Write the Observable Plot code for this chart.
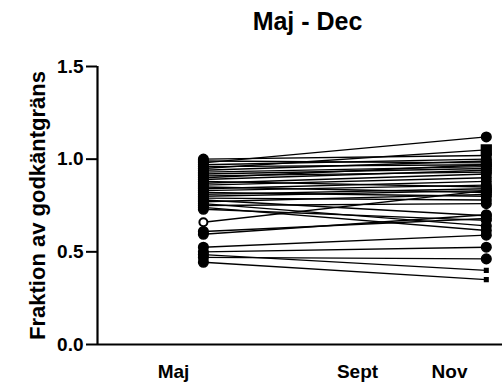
<!DOCTYPE html>
<html>
<head>
<meta charset="utf-8">
<script src="https://cdn.jsdelivr.net/npm/d3@7"></script>
<script src="https://cdn.jsdelivr.net/npm/@observablehq/plot@0.6"></script>
<style>
  html, body { margin: 0; padding: 0; background: #fff; }
  body { width: 502px; height: 389px; overflow: hidden; }
</style>
</head>
<body>
<div id="chart"></div>
<script>
// Data (fraction of approval limit), one line per subject
const titleText = "Maj - Dec";
const yLabel = "Fraktion av godkäntgräns";
const monthTicks = [5, 9, 11];
const monthLabels = ["Maj", "Sept", "Nov"];
const yTicks = [0, 0.5, 1.0, 1.5];
const timeFirst = 5.65;   // measurement month (first)
const timeLast = 11.8;    // measurement month (last)
const valuesFirst = [0.98, 0.95, 1.00, 0.99, 0.97, 0.96, 0.94, 0.93, 0.92, 0.91, 0.90, 0.89, 0.88, 0.87, 0.86, 0.85, 0.84, 0.83, 0.82, 0.81, 0.80, 0.79, 0.78, 0.77, 0.76, 0.75, 0.74, 0.73, 0.66, 0.61, 0.595, 0.525, 0.50, 0.47, 0.485, 0.444];
const valuesLast  = [1.12, 1.05, 1.02, 0.98, 1.00, 0.97, 0.99, 0.96, 0.95, 0.93, 0.97, 0.94, 0.85, 0.92, 0.90, 0.82, 0.88, 0.86, 0.80, 0.84, 0.83, 0.78, 0.695, 0.81, 0.64, 0.76, 0.615, 0.67, 0.83, 0.68, 0.70, 0.59, 0.525, 0.462, 0.40, 0.35];
const squareIds = [1];
const openIds = [28];
const smallIds = [34, 35];

const rows = valuesFirst.flatMap((v, i) => [
  {id: i, t: timeFirst, v, side: "first"},
  {id: i, t: timeLast, v: valuesLast[i], side: "last"}
]);
const isSpecial = d => (d.side === "last" && (squareIds.includes(d.id) || smallIds.includes(d.id))) || (d.side === "first" && openIds.includes(d.id));
const dotsCircle = rows.filter(d => !isSpecial(d));
const dotsSquare = rows.filter(d => d.side === "last" && squareIds.includes(d.id));
const dotsSmall = rows.filter(d => d.side === "last" && smallIds.includes(d.id));
const dotsOpen = rows.filter(d => d.side === "first" && openIds.includes(d.id));

const xDomain = [3.348, 12.152];
const font = "Liberation Sans, Arial, Helvetica, sans-serif";

const chart = Plot.plot({
  width: 502,
  height: 389,
  marginLeft: 97,
  marginRight: 0,
  marginTop: 66,
  marginBottom: 45,
  style: {fontFamily: font, fontWeight: "bold", color: "#000", background: "#fff", overflow: "visible"},
  x: {type: "linear", domain: xDomain},
  y: {domain: [0, 1.5]},
  marks: [
    Plot.axisY({ticks: yTicks, tickFormat: d => d.toFixed(1), tickSize: 11, tickPadding: 3, fontSize: 19, strokeWidth: 2, label: null}),
    Plot.axisX({ticks: monthTicks, tickFormat: d => monthLabels[monthTicks.indexOf(d)], tickSize: 0, tickPadding: 20, fontSize: 19, label: null}),
    Plot.ruleY([0], {stroke: "#000", strokeWidth: 2.2}),
    Plot.ruleX([xDomain[0]], {y1: 0, y2: 1.5, stroke: "#000", strokeWidth: 2.2}),
    Plot.text([titleText], {frameAnchor: "top", lineAnchor: "middle", dx: 7.5, dy: -45, fontSize: 25, fontWeight: "bold", fill: "#000"}),
    Plot.text([yLabel], {frameAnchor: "left", lineAnchor: "middle", textAnchor: "middle", rotate: -90, dx: -60, fontSize: 22, fontWeight: "bold", fill: "#000"}),
    Plot.line(rows, {x: "t", y: "v", z: "id", stroke: "#000", strokeWidth: 1.4}),
    Plot.dot(dotsCircle, {x: "t", y: "v", r: 4.8, fill: "#000", stroke: "#000"}),
    Plot.dot(dotsSquare, {x: "t", y: "v", r: 5.5, symbol: "square", fill: "#000", stroke: "#000"}),
    Plot.dot(dotsSmall, {x: "t", y: "v", r: 2, symbol: "square", fill: "#000", stroke: "#000"}),
    Plot.dot(dotsOpen, {x: "t", y: "v", r: 4, fill: "#fff", stroke: "#000", strokeWidth: 2})
  ]
});
document.getElementById("chart").appendChild(chart);
</script>
</body>
</html>
